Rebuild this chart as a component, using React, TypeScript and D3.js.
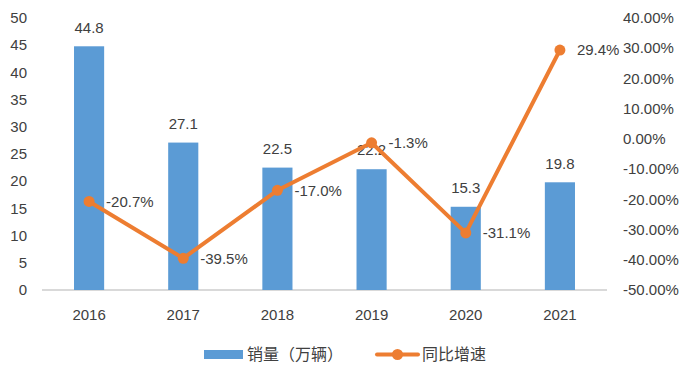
import React from "react";
import * as d3 from "d3";

const categories = ["2016", "2017", "2018", "2019", "2020", "2021"];
const sales = [44.8, 27.1, 22.5, 22.2, 15.3, 19.8];
const growth = [-20.7, -39.5, -17.0, -1.3, -31.1, 29.4];
const leftTicks = [0, 5, 10, 15, 20, 25, 30, 35, 40, 45, 50];
const rightTicks = [40, 30, 20, 10, 0, -10, -20, -30, -40, -50];
const seriesNames = ["销量（万辆）", "同比增速"];

const W = 693;
const H = 379;
const M = { left: 42, right: 607, top: 18, bottom: 290 };
const BLUE = "#5B9BD5";
const ORANGE = "#ED7D31";
const TEXT = "#404040";
const FONT = "'Liberation Sans', Arial, sans-serif";
const CJK = "'Noto Sans CJK SC', sans-serif";

export default function App() {
  const x = d3.scaleBand<string>().domain(categories).range([M.left, M.right]).paddingInner(0.68).paddingOuter(0.34);
  const yL = d3.scaleLinear().domain([0, 50]).range([M.bottom, M.top]);
  const yR = d3.scaleLinear().domain([-50, 40]).range([M.bottom, M.top]);
  const cx = (c: string) => (x(c) as number) + x.bandwidth() / 2;
  const line = d3
    .line<number>()
    .x((_, i) => cx(categories[i]))
    .y((d) => yR(d));

  return (
    <svg width={W} height={H} style={{ position: "absolute", left: 0, top: 0, background: "#fff" }}>
      <rect width={W} height={H} fill="#fff" />
      <line x1={M.left} x2={M.right} y1={M.bottom} y2={M.bottom} stroke="#D9D9D9" strokeWidth={2} />
      {leftTicks.map((t) => (
        <text key={"l" + t} x={27} y={yL(t)} dy="0.35em" textAnchor="end" fontSize={15} fill={TEXT} fontFamily={FONT}>
          {t}
        </text>
      ))}
      {rightTicks.map((t) => (
        <text key={"r" + t} x={623} y={yR(t)} dy="0.35em" textAnchor="start" fontSize={15} fill={TEXT} fontFamily={FONT}>
          {t.toFixed(2) + "%"}
        </text>
      ))}
      {categories.map((c) => (
        <text key={"x" + c} x={cx(c)} y={315} dy="0.35em" textAnchor="middle" fontSize={15} fill={TEXT} fontFamily={FONT}>
          {c}
        </text>
      ))}
      {sales.map((v, i) => (
        <rect key={"b" + i} x={x(categories[i])} y={yL(v)} width={x.bandwidth()} height={yL(0) - yL(v)} fill={BLUE} />
      ))}
      {sales.map((v, i) => (
        <text key={"bl" + i} x={cx(categories[i])} y={yL(v) - 19} dy="0.35em" textAnchor="middle" fontSize={15} fill={TEXT} fontFamily={FONT}>
          {v.toFixed(1)}
        </text>
      ))}
      <path d={line(growth) as string} fill="none" stroke={ORANGE} strokeWidth={4} strokeLinejoin="round" />
      {growth.map((v, i) => (
        <circle key={"p" + i} cx={cx(categories[i])} cy={yR(v)} r={5.5} fill={ORANGE} />
      ))}
      {growth.map((v, i) => (
        <text key={"gl" + i} x={cx(categories[i]) + 17} y={yR(v)} dy="0.35em" textAnchor="start" fontSize={15} fill={TEXT} fontFamily={FONT}>
          {v.toFixed(1) + "%"}
        </text>
      ))}
      <rect x={204} y={350} width={39} height={9} fill={BLUE} />
      <text x={247} y={354.5} dy="0.35em" fontSize={16} fill={TEXT} fontFamily={CJK}>
        {seriesNames[0]}
      </text>
      <line x1={377} x2={418} y1={354.5} y2={354.5} stroke={ORANGE} strokeWidth={4} strokeLinecap="round" />
      <circle cx={397.5} cy={354.5} r={5.5} fill={ORANGE} />
      <text x={422} y={354.5} dy="0.35em" fontSize={16} fill={TEXT} fontFamily={CJK}>
        {seriesNames[1]}
      </text>
    </svg>
  );
}
